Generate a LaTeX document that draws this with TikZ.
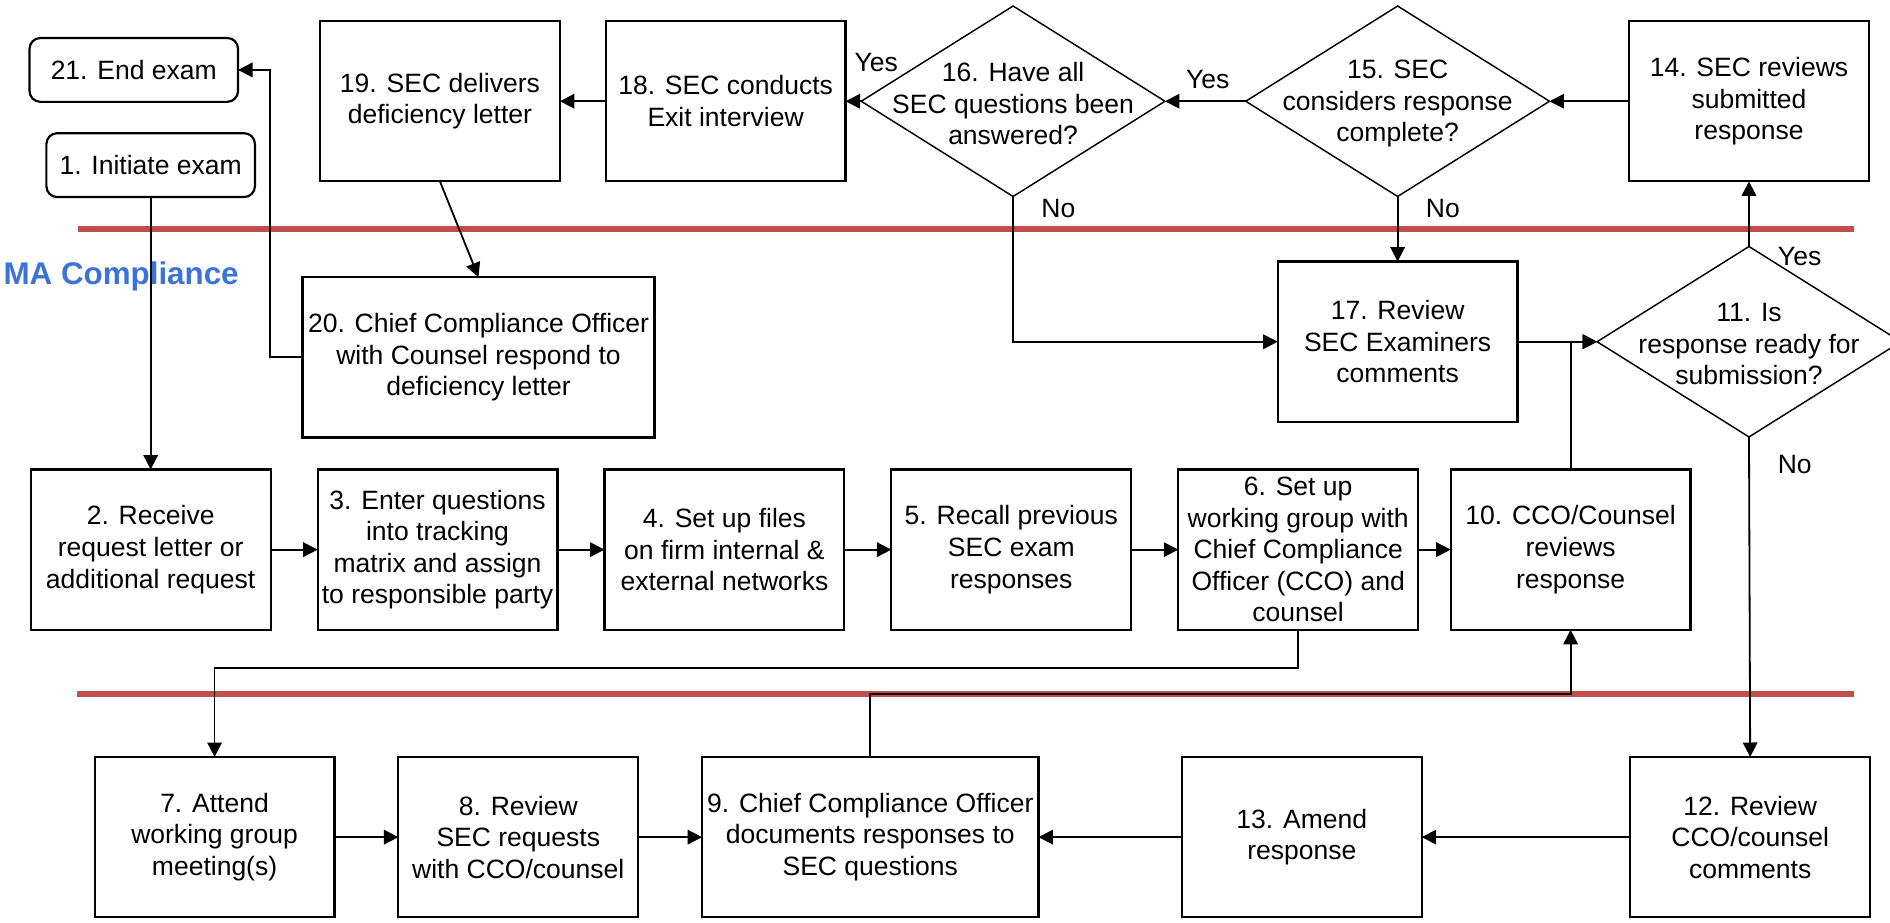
\documentclass[tikz,border=0pt]{standalone}
\usepackage{fontspec}
\setmainfont{Liberation Sans}
\usepackage{tikz}
\usetikzlibrary{arrows.meta,positioning,shapes.geometric}
\definecolor{laneRed}{HTML}{C0504D}
\definecolor{maBlue}{HTML}{3C73DB}
\tikzset{
  box/.style={draw=black,line width=1.8pt,minimum width=199pt,minimum height=133pt,align=center,inner sep=1pt,outer sep=0pt,font=\fontsize{22}{26.2}\selectfont},
  endbox/.style={box,rounded corners=9pt,minimum width=173pt,minimum height=53pt},
  decision/.style={diamond,draw=black,line width=1.2pt,minimum width=252pt,minimum height=158pt,inner sep=0pt,outer sep=0pt},
  qtext/.style={align=center,inner sep=0pt,font=\fontsize{22}{26.2}\selectfont},
  lab/.style={inner sep=0pt,font=\fontsize{22}{26.2}\selectfont},
  arr/.style={-{Triangle[length=12pt,width=12pt]},line width=1.5pt},
  laneline/.style={draw=laneRed,line width=5pt},
}
\begin{document}
\begin{tikzpicture}[x=1pt,y=1pt]
  \useasboundingbox (0,0) rectangle (1568,-765);
  \draw[laneline] (65,-190) -- (1538,-190);
  \draw[laneline] (64,-575.5) -- (1538,-575.5);
  \node[font=\fontsize{26}{30}\selectfont\bfseries,text=maBlue,inner sep=0pt] (lanename) at (100.5,-229) {MA Compliance};

  \node[endbox] (n21) at (111,-58) {21. End exam};
  \node[endbox] (n1) at (125,-137) {1. Initiate exam};

  \node[box] (n19) at (365,-84) {19. SEC delivers\\deficiency letter};
  \node[box,right=38pt of n19] (n18) {18. SEC conducts\\Exit interview};
  \node[decision,right=13pt of n18] (q16) {};
  \node[qtext] (q16t) at ([yshift=-2pt]q16) {16. Have all\\SEC questions been\\answered?};
  \node[decision,right=67pt of q16] (q15) {};
  \node[qtext] (q15t) at ([yshift=-2pt]q15) {15. SEC\\considers response\\complete?};
  \node[box,right=66pt of q15] (n14) {14. SEC reviews\\submitted\\response};

  \node[box,minimum width=292pt] (n20) at (397,-296.5) {20. Chief Compliance Officer\\with Counsel respond to\\deficiency letter};
  \node[box,below=54pt of q15] (n17) {17. Review\\SEC Examiners\\comments};
  \node[decision,right=66pt of n17] (q11) {};
  \node[qtext] (q11t) at ([yshift=-2pt]q11) {11. Is\\response ready for\\submission?};

  \node[box] (n2) at (125,-456) {2. Receive\\request letter or\\additional request};
  \node[box,right=39pt of n2] (n3) {3. Enter questions\\into tracking\\matrix and assign\\to responsible party};
  \node[box,right=39pt of n3] (n4) {4. Set up files\\on firm internal \&\\external networks};
  \node[box,right=39pt of n4] (n5) {5. Recall previous\\SEC exam\\responses};
  \node[box,right=39pt of n5] (n6) {6. Set up\\working group with\\Chief Compliance\\Officer (CCO) and\\counsel};
  \node[box,right=27pt of n6] (n10) {10. CCO/Counsel\\reviews\\response};

  \node[box] (n7) at (178,-694.5) {7. Attend\\working group\\meeting(s)};
  \node[box,right=53pt of n7] (n8) {8. Review\\SEC requests\\with CCO/counsel};
  \node[box,minimum width=279pt,right=53pt of n8] (n9) {9. Chief Compliance Officer\\documents responses to\\SEC questions};
  \node[box,right=119pt of n9] (n13) {13. Amend\\response};
  \node[box,right=173pt of n13] (n12) {12. Review\\CCO/counsel\\comments};

  \draw[arr] (n1) -- (n2);
  \draw[arr] (n2) -- (n3);
  \draw[arr] (n3) -- (n4);
  \draw[arr] (n4) -- (n5);
  \draw[arr] (n5) -- (n6);
  \draw[arr] (n6) -- (n10);
  \draw[arr] (n6.south) -- ++(0,-31.5) -| (n7.north);
  \draw[arr] (n7) -- (n8);
  \draw[arr] (n8) -- (n9);
  \draw[arr] (n9.north) -- ++(0,52.5) -| (n10.south);
  \draw[arr] (n10.north) |- (q11.west);
  \draw[arr] (n17.east) -- (q11.west);
  \draw[arr] (q11.north) -- (n14.south);
  \draw[arr] (q11.south) -- (n12.north);
  \draw[arr] (n12) -- (n13);
  \draw[arr] (n13) -- (n9);
  \draw[arr] (n14) -- (q15.east);
  \draw[arr] (q15.west) -- (q16.east);
  \draw[arr] (q16.west) -- (n18.east);
  \draw[arr] (n18) -- (n19);
  \draw[arr] (q15.south) -- (n17.north);
  \draw[arr] (q16.south) |- (n17.west);
  \draw[arr] (n19.south) -- (n20.north);
  \draw[arr] (n20.west) -- ++(-27,0) |- (n21.east);

  \node[lab] (yes16) at (727,-52) {Yes};
  \node[lab] (yes15) at (1002,-66) {Yes};
  \node[lab] (no16) at (878,-173) {No};
  \node[lab] (no15) at (1197,-173) {No};
  \node[lab] (yes11) at (1493,-213) {Yes};
  \node[lab] (no11) at (1489,-385) {No};
\end{tikzpicture}
\end{document}
